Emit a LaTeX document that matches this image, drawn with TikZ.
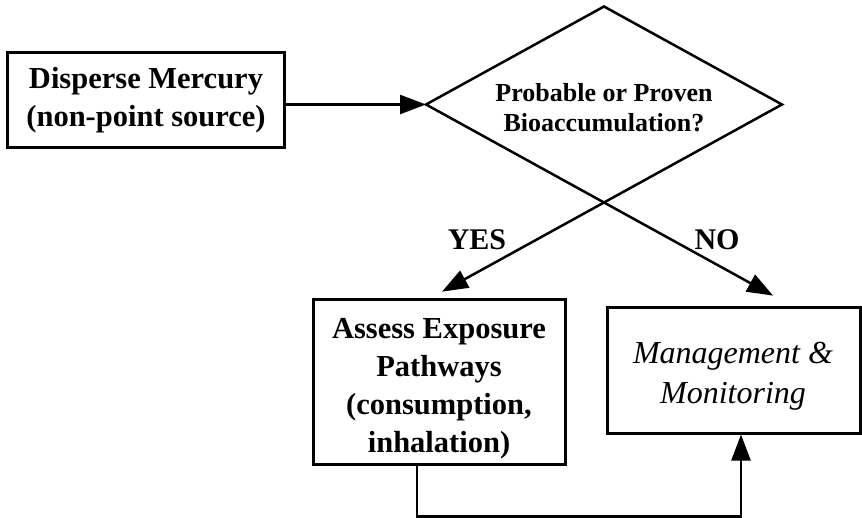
\documentclass[tikz,border=0pt]{standalone}
\usepackage{fontspec}
\setmainfont{Liberation Serif}
\usetikzlibrary{shapes.geometric,arrows.meta,calc}
\begin{document}
\begin{tikzpicture}[x=1pt,y=-1pt,
  box/.style={draw,line width=3pt,inner sep=0pt,align=center,font=\fontsize{30.5}{38}\selectfont\bfseries},
  txt/.style={inner sep=0pt,align=center,font=\fontsize{30.5}{38}\selectfont\bfseries},
  dec/.style={draw,shape=diamond,line width=2.5pt,inner sep=0pt,outer sep=0pt,aspect=1.8,
     minimum width=356pt,minimum height=196pt},
  dtxt/.style={inner sep=0pt,align=center,font=\fontsize{26}{30}\selectfont\bfseries},
  arr/.style={line width=2.5pt,-{Triangle[length=26pt,width=19pt]}},
  lbl/.style={font=\fontsize{30}{36}\selectfont\bfseries,inner sep=0pt}]
\useasboundingbox (0,0) rectangle (862,518);
\node[box,minimum width=277pt,minimum height=95pt] (src) at (146,100.5) {Disperse Mercury\\(non-point source)};
\node[dec] (d) at (604,104.5) {};
\node[dtxt] (dt) at (604,108) {Probable or Proven\\Bioaccumulation?};
\node[box,minimum width=252pt,minimum height=164pt] (as) at (439,382) {};
\node[txt] (ast) at (439,389) {Assess Exposure\\Pathways\\(consumption,\\inhalation)};
\node[box,minimum width=253pt,minimum height=125pt] (mg) at (733.5,370.5) {};
\node[txt,font=\fontsize{32}{40}\selectfont\itshape] (mgt) at (733,376) {Management \&\\Monitoring};
\coordinate (yesend) at ($(d.east)!1.91!(d.south)$);
\coordinate (noend) at ($(d.west)!1.95!(d.south)$);
\draw[arr] (src.east |- d.west) -- (d.west);
\draw[arr] (d.south) -- (yesend);
\draw[arr] (d.south) -- (noend);
\node[lbl] (yes) at (477,240) {YES};
\node[lbl] (no) at (717,240) {NO};
\draw[arr] ([xshift=-22pt]as.south) -- ++(0,51) -| ([xshift=7.5pt]mg.south);
\end{tikzpicture}
\end{document}
